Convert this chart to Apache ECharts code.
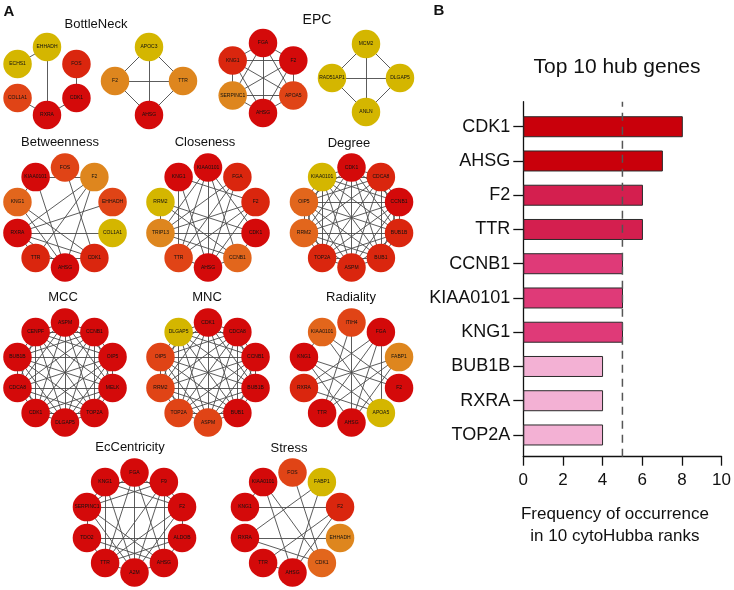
<!DOCTYPE html>
<html><head><meta charset="utf-8">
<script src="https://cdn.jsdelivr.net/npm/echarts@6.0.0/dist/echarts.min.js"></script>
<style>html,body{margin:0;padding:0;background:#fff}#c{width:734px;height:590px}</style>
</head><body><div id="c"></div><script>
// ================= Panel B data =================
const hubGenes = ['CDK1','AHSG','F2','TTR','CCNB1','KIAA0101','KNG1','BUB1B','RXRA','TOP2A'];
const hubFreq  = [8, 7, 6, 6, 5, 5, 5, 4, 4, 4];
const hubGroup = [0, 0, 1, 1, 2, 2, 2, 3, 3, 3];
const hubThreshold = 5;
const freqMin = 0, freqMax = 10, freqStep = 2;
const panelBTitle = 'Top 10 hub genes';
const panelBAxisName = 'Frequency of occurrence\nin 10 cytoHubba ranks';

// ================= Panel A data (cytoHubba networks) =================
// node order follows the circle clockwise; level = colour rank (0 red ... 5 yellow)
const bnA_nodes  = ['CDK1','RXRA','COL1A1','ECHS1','EHHADH','FOS'];
const bnA_levels = [0, 0, 2, 5, 5, 1];
const bnA_edges  = [['EHHADH','ECHS1'],['EHHADH','RXRA'],['FOS','CDK1'],['CDK1','RXRA'],['COL1A1','RXRA']];

const bnB_nodes  = ['TTR','AHSG','F2','APOC3'];
const bnB_levels = [4, 0, 4, 5];
const bnB_weights = [0, 2, 0, 2];
const bnB_edges  = [['APOC3','F2'],['APOC3','TTR'],['APOC3','AHSG'],['F2','TTR'],['F2','AHSG'],['TTR','AHSG']];

const epcA_nodes  = ['APOA5','AHSG','SERPINC1','KNG1','FGA','F2'];
const epcA_levels = [2, 0, 4, 1, 0, 0];
const epcA_edges  = [['FGA','KNG1'],['FGA','F2'],['FGA','SERPINC1'],['FGA','APOA5'],['FGA','AHSG'],
  ['KNG1','F2'],['KNG1','SERPINC1'],['KNG1','APOA5'],['KNG1','AHSG'],['F2','SERPINC1'],['F2','APOA5'],
  ['F2','AHSG'],['SERPINC1','APOA5'],['SERPINC1','AHSG'],['APOA5','AHSG']];

const epcB_nodes  = ['DLGAP5','ANLN','RAD51AP1','MCM2'];
const epcB_levels = [5, 5, 5, 5];
const epcB_weights = [0, 2, 0, 2];
const epcB_edges  = [['MCM2','RAD51AP1'],['MCM2','DLGAP5'],['MCM2','ANLN'],['RAD51AP1','DLGAP5'],['RAD51AP1','ANLN'],['DLGAP5','ANLN']];

const btw_nodes  = ['COL1A1','CDK1','AHSG','TTR','RXRA','KNG1','KIAA0101','FOS','F2','EHHADH'];
const btw_levels = [5, 1, 0, 1, 0, 3, 0, 2, 4, 2];
const btw_edges  = [['KIAA0101','KNG1'],['KNG1','CDK1'],['KNG1','AHSG'],['F2','RXRA'],['F2','TTR'],['F2','AHSG'],
  ['F2','KIAA0101'],['EHHADH','RXRA'],['COL1A1','RXRA'],['FOS','CDK1'],['RXRA','TTR'],['RXRA','AHSG'],
  ['RXRA','CDK1'],['KIAA0101','AHSG'],['TTR','CDK1']];

const clo_nodes  = ['CDK1','CCNB1','AHSG','TTR','TRIP13','RRM2','KNG1','KIAA0101','FGA','F2'];
const clo_levels = [0, 3, 0, 2, 4, 5, 0, 0, 1, 1];
const clo_edges  = [['KIAA0101','AHSG'],['KNG1','TTR'],['KIAA0101','TRIP13'],['KIAA0101','CCNB1'],['KIAA0101','CDK1'],
  ['KIAA0101','TTR'],['KNG1','F2'],['KNG1','AHSG'],['FGA','TTR'],['FGA','TRIP13'],['FGA','AHSG'],['F2','TRIP13'],
  ['F2','AHSG'],['F2','TTR'],['RRM2','TRIP13'],['RRM2','CDK1'],['RRM2','CCNB1'],['TRIP13','CDK1'],['TRIP13','CCNB1'],
  ['CCNB1','CDK1'],['TTR','AHSG'],['AHSG','CCNB1']];

const deg_nodes  = ['BUB1B','BUB1','ASPM','TOP2A','RRM2','OIP5','KIAA0101','CDK1','CDCA8','CCNB1'];
const deg_levels = [1, 1, 1, 1, 3, 3, 5, 0, 1, 0];

const mcc_nodes  = ['MELK','TOP2A','DLGAP5','CDK1','CDCA8','BUB1B','CENPF','ASPM','CCNB1','OIP5'];
const mcc_levels = [0, 0, 0, 0, 0, 0, 0, 0, 0, 0];

const mnc_nodes  = ['BUB1B','BUB1','ASPM','TOP2A','RRM2','OIP5','DLGAP5','CDK1','CDCA8','CCNB1'];
const mnc_levels = [0, 0, 2, 2, 2, 2, 5, 0, 0, 0];

const rad_nodes  = ['F2','APOA5','AHSG','TTR','RXRA','KNG1','KIAA0101','ITIH4','FGA','FABP1'];
const rad_levels = [0, 5, 0, 0, 1, 0, 3, 2, 0, 4];
const rad_edges  = [['FGA','APOA5'],['KNG1','F2'],['KNG1','APOA5'],['KNG1','AHSG'],['RXRA','FABP1'],['RXRA','FGA'],
  ['ITIH4','TTR'],['ITIH4','AHSG'],['TTR','FGA'],['TTR','FABP1'],['AHSG','FABP1'],['AHSG','FGA'],['KIAA0101','F2'],
  ['KIAA0101','APOA5'],['KNG1','KIAA0101'],['RXRA','APOA5']];

const ecc_nodes  = ['ALDOB','AHSG','A2M','TTR','TDO2','SERPINC1','KNG1','FGA','F9','F2'];
const ecc_levels = [0, 0, 0, 0, 0, 0, 0, 0, 0, 0];
const ecc_edges  = [['SERPINC1','F2'],['TDO2','ALDOB'],['FGA','A2M'],['KNG1','TTR'],['F9','AHSG'],['KNG1','F9'],
  ['KNG1','F2'],['KNG1','A2M'],['KNG1','SERPINC1'],['FGA','SERPINC1'],['FGA','F2'],['FGA','TTR'],['FGA','AHSG'],
  ['F9','SERPINC1'],['F9','F2'],['F9','A2M'],['F9','TTR'],['SERPINC1','TDO2'],['SERPINC1','A2M'],['SERPINC1','AHSG'],
  ['F2','A2M'],['F2','TTR'],['F2','ALDOB'],['TDO2','TTR'],['TDO2','AHSG'],['TTR','A2M'],['A2M','AHSG'],['AHSG','ALDOB'],
  ['ALDOB','TTR']];

const str_nodes  = ['EHHADH','CDK1','AHSG','TTR','RXRA','KNG1','KIAA0101','FOS','FABP1','F2'];
const str_levels = [4, 3, 0, 0, 0, 0, 0, 2, 5, 1];
const str_edges  = [['KNG1','F2'],['RXRA','EHHADH'],['KIAA0101','KNG1'],['KIAA0101','CDK1'],['KIAA0101','AHSG'],
  ['FOS','CDK1'],['FABP1','RXRA'],['FABP1','AHSG'],['F2','TTR'],['F2','AHSG'],['TTR','AHSG'],['RXRA','CDK1']];

// ================= styles =================
const FONT = '"Liberation Sans", Arial, Helvetica, sans-serif';
const NODE_PAL = ['#d40a0a', '#da260e', '#e04416', '#e2661c', '#de861e', '#d4b600'];
const BAR_PAL  = ['#c9000b', '#d41f4f', '#df3a78', '#f3b1d4'];

function allPairs(nodes) {
  const out = [];
  for (let i = 0; i < nodes.length; i++)
    for (let j = i + 1; j < nodes.length; j++) out.push([nodes[i], nodes[j]]);
  return out;
}

function net(nodes, levels, edges, box, weights) {
  const s = {
    type: 'graph',
    left: box.cx - box.r, top: box.cy - box.r, width: 2 * box.r, height: 2 * box.r,
    symbolSize: box.size || 28.5,
    roam: false, silent: true, animation: false,
    label: { show: true, position: 'inside', fontSize: 5, color: '#111', fontFamily: FONT },
    lineStyle: { color: '#4a4a4a', width: 0.9, opacity: 1, curveness: 0 },
    emphasis: { disabled: true },
    data: nodes.map((n, i) => {
      const d = { name: n, itemStyle: { color: NODE_PAL[levels[i]] } };
      if (weights) { d.value = weights[i]; d.fixed = true; }
      return d;
    }),
    links: edges.map(e => ({ source: e[0], target: e[1] }))
  };
  if (weights) {
    s.layout = 'force';
    s.force = { initLayout: 'circular', repulsion: 0, gravity: 0, edgeLength: 10, layoutAnimation: false };
  } else {
    s.layout = 'circular';
  }
  return s;
}

const series = [
  net(bnA_nodes,  bnA_levels,  bnA_edges,  {cx: 47,  cy: 81,  r: 34}),
  net(bnB_nodes,  bnB_levels,  bnB_edges,  {cx: 149, cy: 81,  r: 34}, bnB_weights),
  net(epcA_nodes, epcA_levels, epcA_edges, {cx: 263, cy: 78,  r: 35}),
  net(epcB_nodes, epcB_levels, epcB_edges, {cx: 366, cy: 78,  r: 34}, epcB_weights),
  net(btw_nodes,  btw_levels,  btw_edges,  {cx: 65,  cy: 217.5, r: 50}),
  net(clo_nodes,  clo_levels,  clo_edges,  {cx: 208, cy: 217.5, r: 50}),
  net(deg_nodes,  deg_levels,  allPairs(deg_nodes), {cx: 351.5, cy: 217.5, r: 50}),
  net(mcc_nodes,  mcc_levels,  allPairs(mcc_nodes), {cx: 65,  cy: 372.5, r: 50}),
  net(mnc_nodes,  mnc_levels,  allPairs(mnc_nodes), {cx: 208, cy: 372.5, r: 50}),
  net(rad_nodes,  rad_levels,  rad_edges,  {cx: 351.5, cy: 372.5, r: 50}),
  net(ecc_nodes,  ecc_levels,  ecc_edges,  {cx: 134.5, cy: 522.5, r: 50}),
  net(str_nodes,  str_levels,  str_edges,  {cx: 292.5, cy: 522.5, r: 50}),
  {
    type: 'bar', xAxisIndex: 0, yAxisIndex: 0, barWidth: 21, silent: true, animation: false,
    data: hubFreq.map((v, i) => ({ value: v, itemStyle: { color: BAR_PAL[hubGroup[i]] } })),
    itemStyle: { borderColor: '#2a2a2a', borderWidth: 1 }
  },
  {
    type: 'line', xAxisIndex: 1, yAxisIndex: 1, symbol: 'none', silent: true, animation: false,
    data: [[hubThreshold, 0], [hubThreshold, 1]],
    lineStyle: { color: '#555', width: 1.5, type: [8, 6] }
  }
];

const titles = [
  ['A', 9, 12, 15, 'bold'], ['B', 439, 11, 15, 'bold'],
  ['BottleNeck', 96, 24, 13], ['EPC', 317, 20, 14],
  ['Betweenness', 60, 142, 13], ['Closeness', 205, 142, 13], ['Degree', 349, 143, 13],
  ['MCC', 63, 297, 13], ['MNC', 207, 297, 13], ['Radiality', 351, 297, 13],
  ['EcCentricity', 130, 447, 13], ['Stress', 289, 448, 13],
  [panelBTitle, 617, 67, 21]
];

const chart = echarts.init(document.getElementById('c'));
chart.setOption({
  animation: false,
  backgroundColor: '#fff',
  textStyle: { fontFamily: FONT },
  graphic: titles.map(t => ({
    type: 'text', x: t[1], y: t[2], silent: true,
    style: { text: t[0], fontSize: t[3], fontWeight: t[4] || 'normal', fontFamily: FONT,
             fill: '#111', align: 'center', verticalAlign: 'middle' }
  })),
  grid: [
    { left: 523.3, right: 11.3, top: 109.6, bottom: 137.9, containLabel: false },
    { left: 523.3, right: 11.3, top: 101.7, bottom: 133.3, containLabel: false }
  ],
  xAxis: [
    { gridIndex: 0, type: 'value', min: freqMin, max: freqMax, show: false },
    { gridIndex: 1, type: 'value', min: freqMin, max: freqMax, interval: freqStep,
      axisLine: { show: true, lineStyle: { color: '#111', width: 1.3 } },
      axisTick: { show: true, length: 9, lineStyle: { color: '#111', width: 1.3 } },
      axisLabel: { fontSize: 17, color: '#111', margin: 15, fontFamily: FONT },
      splitLine: { show: false },
      name: panelBAxisName, nameLocation: 'middle', nameGap: 47,
      nameTextStyle: { fontSize: 17, color: '#111', lineHeight: 22, fontFamily: FONT, padding: [0, 15, 0, 0] }
    }
  ],
  yAxis: [
    { gridIndex: 0, type: 'category', data: hubGenes, inverse: true,
      axisLine: { show: false },
      axisTick: { show: true, alignWithLabel: true, length: 10, lineStyle: { color: '#111', width: 1.3 } },
      axisLabel: { fontSize: 18, color: '#111', margin: 13, fontFamily: FONT },
      splitLine: { show: false }
    },
    { gridIndex: 1, type: 'value', min: 0, max: 1,
      axisLine: { show: true, lineStyle: { color: '#111', width: 1.3 } },
      axisTick: { show: false }, axisLabel: { show: false }, splitLine: { show: false }
    }
  ],
  series: series
});
</script></body></html>
